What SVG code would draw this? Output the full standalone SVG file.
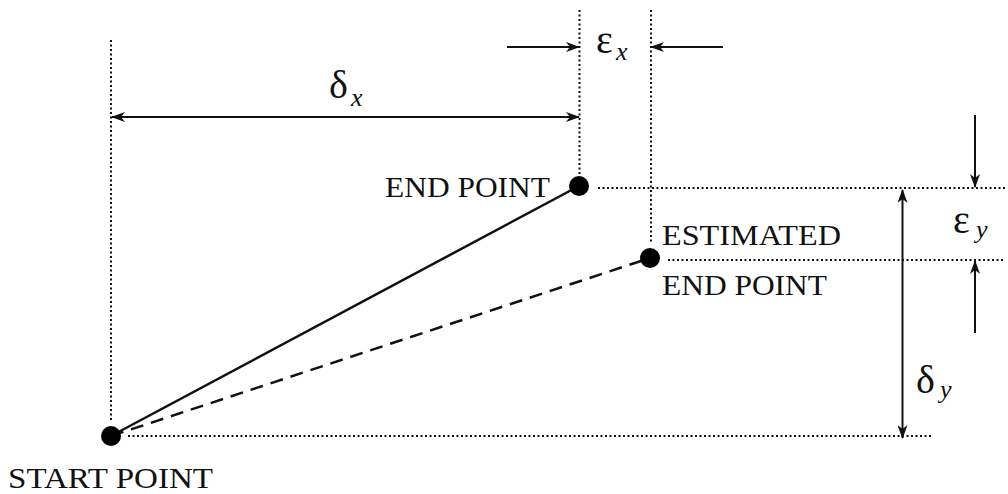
<svg xmlns="http://www.w3.org/2000/svg" width="1008" height="494" viewBox="0 0 1008 494">
<style>
.lbl{font-family:"Liberation Serif","Times New Roman",serif;font-size:30px;fill:#111}
.gk{font-family:"Liberation Serif","Times New Roman",serif;font-size:40px;fill:#111}
.sub{font-family:"Liberation Serif","Times New Roman",serif;font-size:26px;font-style:italic;fill:#111}
.dot{stroke:#111;stroke-width:2;stroke-dasharray:2 2.5;fill:none}
.arr{stroke:#111;stroke-width:2;fill:none}
.pt{fill:#000}
</style>
<defs>
<marker id="ah" viewBox="0 0 14 10" refX="13" refY="5" markerWidth="14" markerHeight="10" markerUnits="userSpaceOnUse" orient="auto-start-reverse">
<path d="M0,0 L14,5 L0,10 L4,5 Z" fill="#111"/>
</marker>
</defs>
<rect width="1008" height="494" fill="#fff"/>
<g id="guides">
<line class="dot" x1="111" y1="40" x2="111" y2="420"/>
<line class="dot" x1="579.5" y1="10" x2="579.5" y2="176"/>
<line class="dot" x1="651" y1="10" x2="651" y2="242"/>
<line class="dot" x1="598" y1="188" x2="1005" y2="188"/>
<line class="dot" x1="668" y1="260" x2="1005" y2="260"/>
<line class="dot" x1="128" y1="436" x2="933" y2="436"/>
</g>
<g id="connectors">
<line x1="111" y1="436" x2="579" y2="186" stroke="#111" stroke-width="2.5"/>
<line x1="111" y1="436" x2="650" y2="258" stroke="#111" stroke-width="2.5" stroke-dasharray="13 8"/>
</g>
<g id="dimensions">
<line class="arr" x1="112" y1="117" x2="579" y2="117" marker-start="url(#ah)" marker-end="url(#ah)"/>
<line class="arr" x1="507" y1="47" x2="579" y2="47" marker-end="url(#ah)"/>
<line class="arr" x1="723" y1="47" x2="651" y2="47" marker-end="url(#ah)"/>
<line class="arr" x1="975" y1="115" x2="975" y2="187" marker-end="url(#ah)"/>
<line class="arr" x1="975" y1="333" x2="975" y2="261" marker-end="url(#ah)"/>
<line class="arr" x1="902.5" y1="190" x2="902.5" y2="438" marker-start="url(#ah)" marker-end="url(#ah)"/>
<text class="gk" x="329" y="98">δ</text><text class="sub" x="351" y="106">x</text>
<text class="gk" x="596" y="53">ε</text><text class="sub" x="616" y="60">x</text>
<text class="gk" x="953" y="233">ε</text><text class="sub" x="976" y="238">y</text>
<text class="gk" x="916" y="393">δ</text><text class="sub" x="940" y="398">y</text>
</g>
<g id="start">
<circle class="pt" cx="111" cy="436" r="10"/>
<text class="lbl" x="8" y="488" textLength="205" lengthAdjust="spacingAndGlyphs">START POINT</text>
</g>
<g id="end">
<circle class="pt" cx="579" cy="186" r="10"/>
<text class="lbl" x="385" y="197" textLength="165" lengthAdjust="spacingAndGlyphs">END POINT</text>
</g>
<g id="estimated">
<circle class="pt" cx="650" cy="258" r="10"/>
<text class="lbl" x="662" y="245" textLength="179" lengthAdjust="spacingAndGlyphs">ESTIMATED</text>
<text class="lbl" x="662" y="295" textLength="165" lengthAdjust="spacingAndGlyphs">END POINT</text>
</g>
</svg>
